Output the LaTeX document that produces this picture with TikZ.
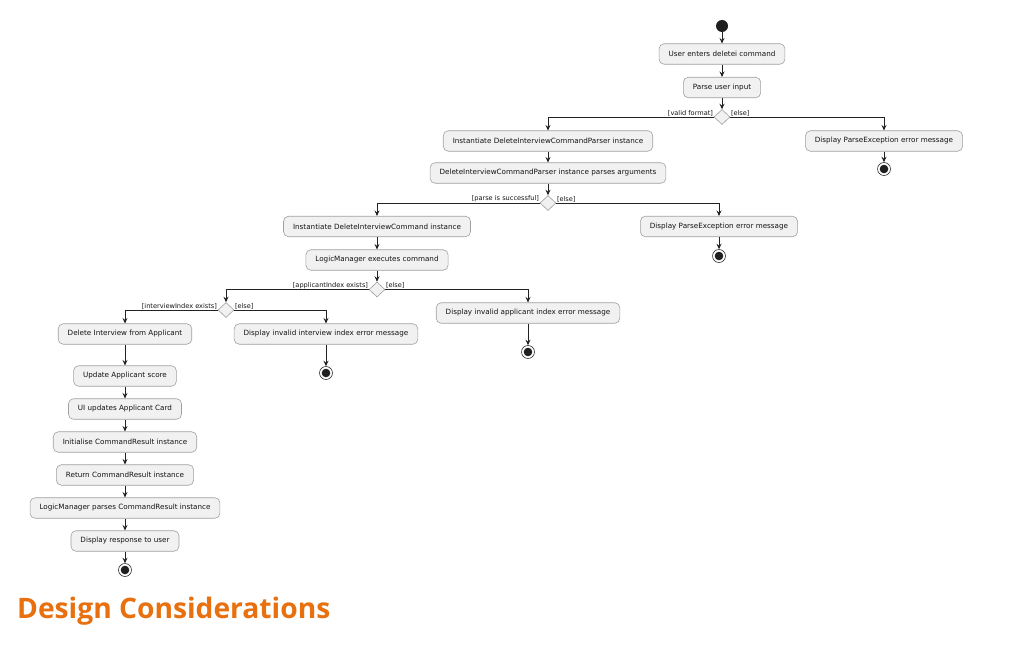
\documentclass[tikz,border=0pt]{standalone}
\usepackage{fontspec}
\setmainfont{DejaVu Sans}
\newfontfamily\headfont{Open Sans}
\usetikzlibrary{shapes.geometric, arrows.meta}

\definecolor{actfill}{HTML}{F1F1F1}
\definecolor{actline}{HTML}{A0A0A0}
\definecolor{flowline}{HTML}{222222}
\definecolor{headorange}{HTML}{E8700F}

\tikzset{
	action/.style = {draw=actline, fill=actfill, rounded corners=5pt, line width=0.6pt,
		minimum height=20.5pt, inner xsep=9.5pt, inner ysep=0pt,
		font=\fontsize{7.2}{8.6}\selectfont, text=black!92},
	branch/.style = {diamond, draw=actline, fill=actfill, line width=0.6pt,
		minimum width=16pt, minimum height=15pt, inner sep=0pt},
	startdot/.style = {circle, fill=black!88, minimum size=12pt, inner sep=0pt},
	stopdot/.style = {circle, draw=black!80, fill=white, line width=0.6pt,
		minimum size=13pt, inner sep=0pt,
		path picture={\fill[black!88] (path picture bounding box.center) circle (4.3pt);}},
	flow/.style = {draw=flowline, line width=0.7pt, -{Stealth[length=5.5pt, width=5pt, inset=2pt]}},
	guard/.style = {font=\fontsize{6.6}{7.5}\selectfont, inner sep=0.5pt, text=black!92},
}

\begin{document}
\begin{tikzpicture}[x=1pt, y=-1pt]
\fill[white] (0, 0) rectangle (1009, 650);
\useasboundingbox (0, 0) rectangle (1009, 650);

% parsing
\node[startdot] (start) at (722, 26) {};
\node[action] (enter) at (722, 54) {User enters deletei command};
\node[action] (parse) at (722, 87.5) {Parse user input};
\node[branch] (fmt) at (722, 117) {};
\node[guard, anchor=south east] (fmtyes) at (fmt.west) {[valid format]};
\node[guard, anchor=south west] (fmtno) at (fmt.east) {[else]};
\node[action] (mkparser) at (548, 141) {Instantiate DeleteInterviewCommandParser instance};
\node[action] (fmterr) at (884, 141) {Display ParseException error message};
\node[stopdot] (fmtstop) at (884, 169) {};
\node[action] (args) at (548, 173) {DeleteInterviewCommandParser instance parses arguments};
\node[branch] (ok) at (548, 203) {};
\node[guard, anchor=south east] (okyes) at (ok.west) {[parse is successful]};
\node[guard, anchor=south west] (okno) at (ok.east) {[else]};
\node[action] (mkcmd) at (377, 226.5) {Instantiate DeleteInterviewCommand instance};
\node[action] (okerr) at (719, 226.5) {Display ParseException error message};
\node[stopdot] (okstop) at (719, 256) {};

% execution
\node[action] (exec) at (377, 260) {LogicManager executes command};
\node[branch] (app) at (377, 289.5) {};
\node[guard, anchor=south east] (appyes) at (app.west) {[applicantIndex exists]};
\node[guard, anchor=south west] (appno) at (app.east) {[else]};
\node[action] (apperr) at (528, 313) {Display invalid applicant index error message};
\node[stopdot] (appstop) at (528, 352) {};
\node[branch] (itv) at (226, 310) {};
\node[guard, anchor=south east] (itvyes) at (itv.west) {[interviewIndex exists]};
\node[guard, anchor=south west] (itvno) at (itv.east) {[else]};
\node[action] (itverr) at (326, 334) {Display invalid interview index error message};
\node[stopdot] (itvstop) at (326, 373) {};

% success path
\node[action] (del) at (125, 334) {Delete Interview from Applicant};
\node[action] (score) at (125, 376) {Update Applicant score};
\node[action] (card) at (125, 409) {UI updates Applicant Card};
\node[action] (init) at (125, 442) {Initialise CommandResult instance};
\node[action] (ret) at (125, 475) {Return CommandResult instance};
\node[action] (lmparse) at (125, 508) {LogicManager parses CommandResult instance};
\node[action] (show) at (125, 541) {Display response to user};
\node[stopdot] (stop) at (125, 570) {};

\draw[flow] (start) -- (enter);
\draw[flow] (enter) -- (parse);
\draw[flow] (parse) -- (fmt);
\draw[flow] (fmt.west) -| (mkparser.north);
\draw[flow] (fmt.east) -| (fmterr.north);
\draw[flow] (fmterr) -- (fmtstop);
\draw[flow] (mkparser) -- (args);
\draw[flow] (args) -- (ok);
\draw[flow] (ok.west) -| (mkcmd.north);
\draw[flow] (ok.east) -| (okerr.north);
\draw[flow] (okerr) -- (okstop);
\draw[flow] (mkcmd) -- (exec);
\draw[flow] (exec) -- (app);
\draw[flow] (app.west) -| (itv.north);
\draw[flow] (app.east) -| (apperr.north);
\draw[flow] (apperr) -- (appstop);
\draw[flow] (itv.west) -| (del.north);
\draw[flow] (itv.east) -| (itverr.north);
\draw[flow] (itverr) -- (itvstop);
\draw[flow] (del) -- (score);
\draw[flow] (score) -- (card);
\draw[flow] (card) -- (init);
\draw[flow] (init) -- (ret);
\draw[flow] (ret) -- (lmparse);
\draw[flow] (lmparse) -- (show);
\draw[flow] (show) -- (stop);

\node[anchor=base west, inner sep=0pt, text=headorange,
	font=\headfont\bfseries\fontsize{28.2}{33}\selectfont] (heading) at (17, 618) {Design Considerations};
\end{tikzpicture}
\end{document}
